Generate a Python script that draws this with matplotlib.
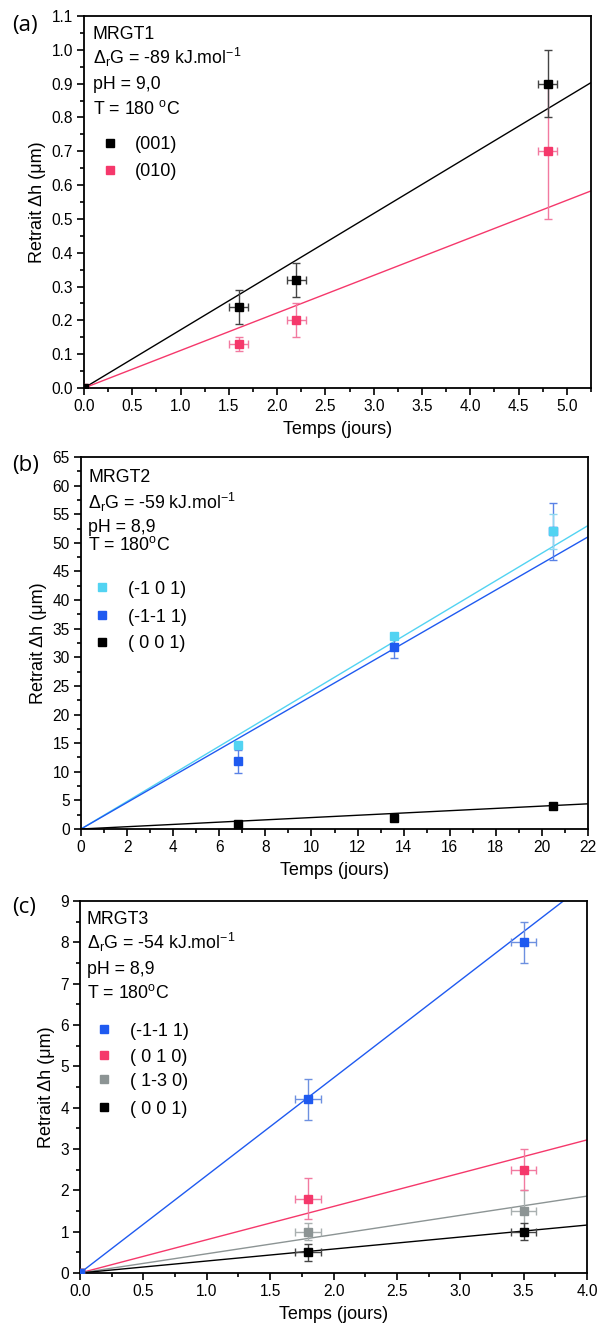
import matplotlib
matplotlib.use("Agg")
import matplotlib.pyplot as plt
import numpy as np

plt.rcParams['font.family'] = ['Liberation Sans', 'DejaVu Sans']
plt.rcParams['mathtext.fontset'] = 'custom'
plt.rcParams['mathtext.rm'] = 'Liberation Sans'
plt.rcParams['mathtext.it'] = 'Liberation Sans'

# ---------------- data ----------------
# Panel (a) MRGT1
a_t = [0.0, 1.6, 2.2, 4.8]
a_001 = [0.0, 0.24, 0.32, 0.90]
a_001_err = [0.0, 0.05, 0.05, 0.10]
a_010 = [0.0, 0.13, 0.20, 0.70]
a_010_err = [0.0, 0.02, 0.05, 0.20]
a_t_err = [0.0, 0.1, 0.1, 0.1]
a_slopes = [0.172, 0.111]

# Panel (b) MRGT2
b_t = [6.8, 13.6, 20.5]
b_m101 = [14.7, 33.8, 52.0]
b_m101_err = [0.0, 0.0, 3.0]
b_m1m11 = [11.8, 31.8, 52.0]
b_m1m11_err = [2.0, 2.0, 5.0]
b_001 = [0.9, 1.9, 4.0]
b_slopes = [2.41, 2.32, 0.20]

# Panel (c) MRGT3
c_t = [0.0, 1.8, 3.5]
c_t_err = [0.0, 0.1, 0.1]
c_m1m11 = [0.0, 4.2, 8.0]
c_m1m11_err = [0.0, 0.5, 0.5]
c_010 = [0.0, 1.8, 2.5]
c_010_err = [0.0, 0.5, 0.5]
c_1m30 = [0.0, 1.0, 1.5]
c_1m30_err = [0.0, 0.2, 0.5]
c_001 = [0.0, 0.5, 1.0]
c_001_err = [0.0, 0.2, 0.2]
c_slopes = [2.36, 0.805, 0.465, 0.29]

BLACK = '#000000'
PINK = '#f5386b'
LBLUE = '#52d3f2'
BLUE = '#1f5af0'
GRAY = '#8c9494'

W, H = 597, 1331
fig = plt.figure(figsize=(W / 100, H / 100), dpi=100)
AX_H = 372.0


def style_axis(ax, xlim, ylim, xmaj, xmin, ymaj, ymin, yfmt):
    ax.set_xlim(*xlim)
    ax.set_ylim(*ylim)
    ax.xaxis.set_major_locator(matplotlib.ticker.MultipleLocator(xmaj))
    ax.xaxis.set_minor_locator(matplotlib.ticker.MultipleLocator(xmin))
    ax.yaxis.set_major_locator(matplotlib.ticker.MultipleLocator(ymaj))
    ax.yaxis.set_major_formatter(matplotlib.ticker.FormatStrFormatter(yfmt))
    ax.yaxis.set_minor_locator(matplotlib.ticker.MultipleLocator(ymin))
    ax.tick_params(which='both', direction='out', top=False, right=False,
                   labelsize=11.2, width=1.2, pad=3)
    ax.tick_params(which='major', length=5)
    ax.tick_params(which='minor', length=3)
    for s in ax.spines.values():
        s.set_linewidth(1.3)
    ax.set_xlabel('Temps (jours)', fontsize=13, labelpad=5)
    ax.set_ylabel('Retrait \u0394h (\u03bcm)', fontsize=13, labelpad=4)


def info(ax, left_px, lines, centers_px):
    # left_px: absolute x in figure px; centers_px: cap centers relative to axes top
    x0 = ax.get_position().x0 * W
    for s, c in zip(lines, centers_px):
        ax.text((left_px - x0) / (ax.get_position().width * W),
                1 - (c + 6.5) / AX_H, s, transform=ax.transAxes,
                fontsize=12.8, va='baseline', ha='left')


def legend(ax, mark_px, text_px, labels, colors, centers_px):
    x0 = ax.get_position().x0 * W
    wpx = ax.get_position().width * W
    for lab, col, c in zip(labels, colors, centers_px):
        y = 1 - c / AX_H
        ax.plot([(mark_px - x0) / wpx], [y], 's', ms=6, color=col,
                transform=ax.transAxes, clip_on=False)
        ax.text((text_px - x0) / wpx, y - 6.5 / AX_H, lab, transform=ax.transAxes,
                fontsize=13, va='baseline', ha='left')


def eb(ax, x, y, yerr, color, ecolor, xerr=None):
    ax.errorbar(x, y, yerr=yerr, xerr=xerr, fmt='s', ms=6, color=color,
                ecolor=ecolor, elinewidth=1.0, capsize=3, capthick=1.0,
                zorder=3)


def panel_label(s, x_px, yc_px):
    fig.text(x_px / W, 1 - yc_px / H, s, fontsize=16, va='center', ha='left',
             family=['Open Sans', 'DejaVu Sans'])


# ---------------- (a) ----------------
axA = fig.add_axes([84 / W, 1 - 388 / H, 507 / W, AX_H / H])
xa = np.array([0, 5.25])
axA.plot(xa, a_slopes[0] * xa, color=BLACK, lw=1.0)
axA.plot(xa, a_slopes[1] * xa, color=PINK, lw=1.0)
eb(axA, a_t, a_010, a_010_err, PINK, '#f27aa0', a_t_err)
eb(axA, a_t, a_001, a_001_err, BLACK, '#444444', a_t_err)
style_axis(axA, (0, 5.25), (0, 1.1), 0.5, 0.25, 0.1, 0.05, '%.1f')
info(axA, 93, ['MRGT1', '$\\Delta_{\\mathrm{r}}$G = -89 kJ.mol$^{-1}$', 'pH = 9,0',
               'T = 180 $^{\\mathrm{o}}$C'], [17, 42, 67, 92])
legend(axA, 110, 135, ['(001)', '(010)'], [BLACK, PINK], [127, 154])
panel_label('(a)', 12, 25)

# ---------------- (b) ----------------
axB = fig.add_axes([81 / W, 1 - 829 / H, 507 / W, AX_H / H])
xb = np.array([0, 22])
axB.plot(xb, b_slopes[0] * xb, color=LBLUE, lw=1.0)
axB.plot(xb, b_slopes[1] * xb, color=BLUE, lw=1.0)
axB.plot(xb, b_slopes[2] * xb, color=BLACK, lw=1.0)
eb(axB, b_t, b_m1m11, b_m1m11_err, BLUE, '#5a82e6')
eb(axB, b_t, b_m101, b_m101_err, LBLUE, '#8fd8f0')
eb(axB, b_t, b_001, None, BLACK, BLACK)
style_axis(axB, (0, 22), (0, 65), 2, 1, 5, 2.5, '%d')
info(axB, 88, ['MRGT2', '$\\Delta_{\\mathrm{r}}$G = -59 kJ.mol$^{-1}$', 'pH = 8,9',
               'T = 180$^{\\mathrm{o}}$C'], [18, 45, 69, 87])
legend(axB, 102, 128, ['(-1 0 1)', '(-1-1 1)', '( 0 0 1)'], [LBLUE, BLUE, BLACK],
       [130, 158, 185])
panel_label('(b)', 12, 465)

# ---------------- (c) ----------------
axC = fig.add_axes([80 / W, 1 - 1273 / H, 507 / W, AX_H / H])
xc = np.array([0, 4.0])
for s, col in zip(c_slopes, [BLUE, PINK, GRAY, BLACK]):
    axC.plot(xc, s * xc, color=col, lw=1.0)
eb(axC, c_t, c_1m30, c_1m30_err, GRAY, '#a9b0b0', c_t_err)
eb(axC, c_t, c_001, c_001_err, BLACK, '#444444', c_t_err)
eb(axC, c_t, c_010, c_010_err, PINK, '#f27aa0', c_t_err)
eb(axC, c_t, c_m1m11, c_m1m11_err, BLUE, '#6d90e0', c_t_err)
style_axis(axC, (0, 4.0), (0, 9), 0.5, 0.25, 1, 0.5, '%d')
info(axC, 87, ['MRGT3', '$\\Delta_{\\mathrm{r}}$G = -54 kJ.mol$^{-1}$', 'pH = 8,9',
               'T = 180$^{\\mathrm{o}}$C'], [16, 42, 66, 91])
legend(axC, 104, 130, ['(-1-1 1)', '( 0 1 0)', '( 1-3 0)', '( 0 0 1)'],
       [BLUE, PINK, GRAY, BLACK], [128, 154, 178, 206])
panel_label('(c)', 12, 908)

fig.savefig('out.png', dpi=100)
